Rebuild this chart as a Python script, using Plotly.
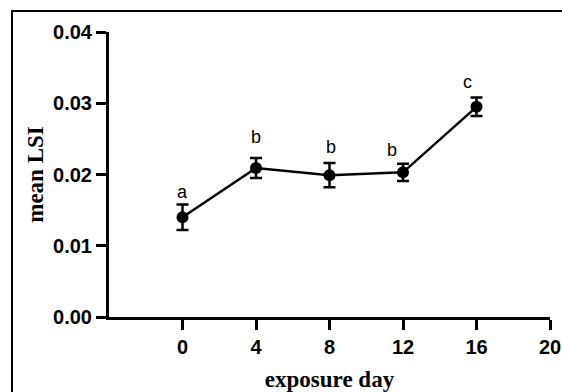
import plotly.graph_objects as go

days = [0, 4, 8, 12, 16]
mean_lsi = [0.0140, 0.0209, 0.0199, 0.0203, 0.0295]
sem = [0.0018, 0.0014, 0.0017, 0.0012, 0.0013]

letters = ["a", "b", "b", "b", "c"]
letter_x = [0, 4, 8.1, 11.4, 15.5]
letter_y = [0.0175, 0.0253, 0.0238, 0.0234, 0.0330]

x_ticks = [0, 4, 8, 12, 16, 20]
y_ticks = [0.00, 0.01, 0.02, 0.03, 0.04]

fig = go.Figure()
fig.add_trace(go.Scatter(
    x=days, y=mean_lsi,
    mode="lines+markers",
    line=dict(color="black", width=2.5),
    marker=dict(color="black", size=12),
    error_y=dict(type="data", array=sem, visible=True, color="black",
                 thickness=2.5, width=6),
    showlegend=False,
))

for lx, ly, t in zip(letter_x, letter_y, letters):
    fig.add_annotation(x=lx, y=ly, text=t, showarrow=False,
                       font=dict(family="Liberation Sans, Arial", size=18, color="black"),
                       xanchor="center", yanchor="middle")

tick_font = dict(family="Liberation Sans, Arial", size=20, color="black", weight="bold")
title_font = dict(family="Liberation Serif, Times New Roman", size=23, color="black", weight="bold")

fig.update_xaxes(
    range=[-4, 20], tickvals=x_ticks, ticktext=[str(v) for v in x_ticks],
    showline=True, linecolor="black", linewidth=3,
    ticks="outside", ticklen=10, tickwidth=2.5, tickcolor="black",
    showgrid=False, zeroline=False, tickfont=tick_font, automargin=False,
    title=dict(text="exposure day", font=title_font, standoff=14),
)
fig.update_yaxes(
    range=[0, 0.04], tickvals=y_ticks, ticktext=[f"{v:.2f}" for v in y_ticks],
    showline=True, linecolor="black", linewidth=3,
    ticks="outside", ticklen=10, tickwidth=2.5, tickcolor="black",
    showgrid=False, zeroline=False, tickfont=tick_font, automargin=False,
    title=dict(text="mean LSI", font=title_font, standoff=4),
)

# outer frame (partially outside the view, as in the reference)
W, H = 562, 392
ml, mr, mt, mb = 109, 12, 32, 75
pw, ph = W - ml - mr, H - mt - mb
fig.add_shape(type="rect", xref="paper", yref="paper",
              x0=(12 - ml) / pw, x1=(W + 20 - ml) / pw,
              y0=-(H + 20 - mt - ph) / ph, y1=1 + (mt - 11) / ph,
              line=dict(color="black", width=2), fillcolor="rgba(0,0,0,0)")

fig.update_layout(
    width=W, height=H,
    margin=dict(l=ml, r=mr, t=mt, b=mb),
    plot_bgcolor="white", paper_bgcolor="white",
)

fig.write_html("out.html")
